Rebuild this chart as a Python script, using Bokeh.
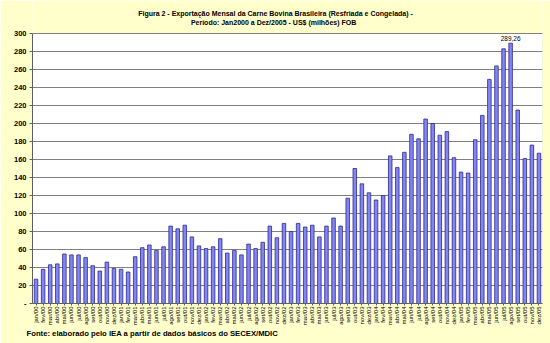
from bokeh.plotting import figure
from bokeh.models import Label, FixedTicker, Range1d, Title, BoxAnnotation
from bokeh.embed import file_html
from bokeh.resources import INLINE

months = ["jan", "fev", "mar", "abr", "mai", "jun", "jul", "ago", "set", "out", "nov", "dez"]
years = ["00", "01", "02", "03", "04", "05"]
labels = [f"{m}/{y}" for y in years for m in months]

v2000 = [27, 38, 43, 44, 55, 54, 54, 51, 42, 36, 46, 39]
v2001 = [38, 35, 52, 62, 65, 59, 63, 86, 83, 87, 74, 64]
v2002 = [61, 63, 72, 56, 59, 54, 66, 61, 68, 86, 73, 89]
v2003 = [80, 89, 85, 87, 74, 86, 95, 86, 117, 150, 133, 123]
v2004 = [115, 120, 164, 151, 168, 188, 183, 205, 200, 187, 191, 162]
v2005 = [146, 145, 182, 209, 249, 264, 283, 289.26, 215, 161, 176, 167]
values = v2000 + v2001 + v2002 + v2003 + v2004 + v2005

yticks = list(range(0, 301, 20))
title1 = "Figura 2 - Exportação Mensal da Carne Bovina Brasileira (Resfriada e Congelada) -"
title2 = "Período: Jan2000 a Dez/2005  - US$  (milhões) FOB"
source_text = "Fonte: elaborado pelo IEA a partir de dados básicos do SECEX/MDIC"
peak_label = "289,26"

xs = list(range(len(values)))
YMAX = 300
# frame extends up to the canvas top so the title sits inside it
y_top = YMAX + 33 / 0.9

p = figure(width=550, height=343, output_backend="svg", toolbar_location=None,
           x_range=Range1d(-0.5, len(values) - 0.5), y_range=Range1d(0, y_top),
           min_border_left=32, min_border_right=8, min_border_top=0, min_border_bottom=40)

p.background_fill_color = "#FFFFCC"
p.border_fill_color = "#FFFFCC"
p.outline_line_color = None
p.add_layout(BoxAnnotation(bottom=0, top=YMAX, fill_color="white", fill_alpha=1,
                           line_color="#b8b8b8", line_width=1, level="image"))

p.add_layout(Title(text=source_text, align="left", offset=-6, text_font="Liberation Sans",
                   text_font_size="7.7px", text_font_style="bold", text_color="black", standoff=0,
                   vertical_align="top"),
             "below")

p.vbar(x=xs, top=values, width=0.5, fill_color="#8585F0", line_color="#2A2A90", line_width=0.8)

p.xgrid.visible = False
p.ygrid.grid_line_color = "#808080"
p.ygrid.grid_line_width = 1
p.ygrid.ticker = FixedTicker(ticks=yticks)

p.yaxis.ticker = FixedTicker(ticks=yticks)
p.yaxis.bounds = (0, YMAX)
p.yaxis.major_label_overrides = {0: "-"}
p.yaxis.major_label_text_font = "Liberation Sans"
p.yaxis.major_label_text_font_style = "bold"
p.yaxis.major_label_text_font_size = "7.5px"
p.yaxis.major_label_text_color = "black"
p.yaxis.axis_line_color = "#606060"
p.yaxis.major_tick_line_color = "#606060"
p.yaxis.major_tick_out = 3
p.yaxis.major_tick_in = 0
p.yaxis.minor_tick_line_color = None
p.yaxis.major_label_standoff = 3

p.xaxis.ticker = FixedTicker(ticks=xs)
p.xaxis.major_label_overrides = {i: labels[i] for i in xs}
p.xaxis.major_label_orientation = 1.5708
p.xaxis.major_label_text_font = "Liberation Sans"
p.xaxis.major_label_text_font_size = "6px"
p.xaxis.major_label_text_color = "black"
p.xaxis.major_label_standoff = 1
p.xaxis.axis_line_color = "#606060"
p.xaxis.major_tick_line_color = "#606060"
p.xaxis.major_tick_out = 2
p.xaxis.major_tick_in = 0
p.xaxis.minor_tick_line_color = None

title_x = -0.5 + (275 - 32) / 7.0833
p.add_layout(Label(x=title_x, y=YMAX + (33 - 12.5) / 0.9, text=title1, text_align="center",
                   text_baseline="middle", text_font="Liberation Sans", text_font_size="7px",
                   text_font_style="bold", text_color="black"))
p.add_layout(Label(x=title_x, y=YMAX + (33 - 21.5) / 0.9, text=title2, text_align="center",
                   text_baseline="middle", text_font="Liberation Sans", text_font_size="7px",
                   text_font_style="bold", text_color="black"))

peak_i = values.index(max(values))
p.add_layout(Label(x=peak_i, y=values[peak_i] + 2, text=peak_label, text_align="center",
                   text_baseline="bottom", text_font="Liberation Sans", text_font_size="6.5px",
                   text_color="black"))

open("out.html", "w").write(file_html(p, INLINE))
